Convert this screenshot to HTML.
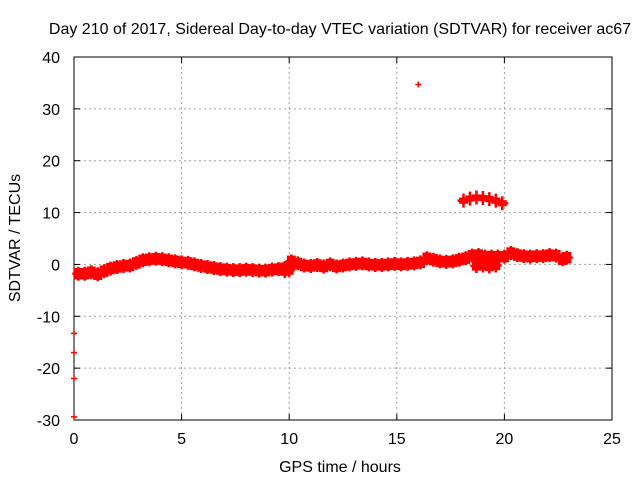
<!DOCTYPE html>
<html><head><meta charset="utf-8"><style>
body{margin:0;background:#fff;}
svg text{font-family:"Liberation Sans",sans-serif;font-size:16px;fill:#000;}
</style></head><body>
<svg width="640" height="480">
<rect width="640" height="480" fill="#fff"/>
<g id="grid"></g>
<g id="axes"></g>
<g id="marks"></g>
<text x="340" y="34" text-anchor="middle">Day 210 of 2017, Sidereal Day-to-day VTEC variation (SDTVAR) for receiver ac67</text>
<text x="340" y="472" text-anchor="middle">GPS time / hours</text>
<text x="0" y="0" text-anchor="middle" transform="translate(20,238) rotate(-90)">SDTVAR / TECUs</text>
</svg>
<script>
const xTicks=[0,5,10,15,20,25];
const yTicks=[-30,-20,-10,0,10,20,30,40];
const mainTimes=[0.2,0.5,0.8,1.1,1.4,1.7,2.0,2.3,2.6,2.9,3.2,3.5,3.8,4.1,4.4,4.7,5.0,5.3,5.6,5.9,6.2,6.5,6.8,7.1,7.4,7.7,8.0,8.3,8.6,8.9,9.2,9.5,9.8,10.1,10.4,10.7,11.0,11.3,11.6,11.9,12.2,12.5,12.8,13.1,13.4,13.7,14.0,14.3,14.6,14.9,15.2,15.5,15.8,16.1,16.4,16.7,17.0,17.3,17.6,17.9,18.2,18.5,18.8,19.1,19.4,19.7,20.0,20.3,20.6,20.9,21.2,21.5,21.8,22.1,22.4,22.7,22.9];
const mainValues=[-1.8,-1.8,-1.5,-1.9,-1.3,-0.8,-0.5,-0.3,-0.2,0.3,0.8,1.0,1.1,1.0,0.8,0.6,0.4,0.3,0.0,-0.3,-0.5,-0.7,-0.9,-1.0,-1.1,-1.1,-1.0,-1.1,-1.2,-1.2,-1.0,-0.9,-0.7,0.6,0.2,-0.2,-0.3,-0.1,-0.4,0.0,-0.4,-0.2,0.0,0.1,0.2,0.0,-0.1,-0.1,0.0,0.1,0.0,0.1,0.2,0.4,1.2,0.9,0.6,0.5,0.6,0.9,1.2,1.7,1.8,1.5,1.5,1.5,1.5,2.2,1.8,1.6,1.5,1.6,1.6,1.8,1.7,1.0,1.3];
const lowerTimes=[9.8,10.0,18.7,19.0,19.3,19.6];
const lowerValues=[-1.3,-1.1,-0.3,-0.2,-0.4,-0.2];
const arcTimes=[18.1,18.4,18.7,19.0,19.3,19.6,19.9];
const arcValues=[12.3,12.7,12.9,12.8,12.6,12.3,11.8];
const outlierTimes=[16.0,0,0,0,0];
const outlierValues=[34.7,-13.3,-17.0,-22.0,-29.4];

const L=74,R=612,T=57,B=420,xMin=0,xMax=25,yMin=-30,yMax=40;
const X=v=>L+(v-xMin)/(xMax-xMin)*(R-L);
const Y=v=>B-(v-yMin)/(yMax-yMin)*(B-T);
const NS='http://www.w3.org/2000/svg';
function mk(tag,parent,attrs){const e=document.createElementNS(NS,tag);for(const k in attrs)e.setAttribute(k,attrs[k]);parent.appendChild(e);return e;}
const grid=document.getElementById('grid'),axes=document.getElementById('axes'),marks=document.getElementById('marks');
xTicks.forEach(t=>{
  const x=X(t);
  if(t>xMin&&t<xMax){const g=mk('line',grid,{x1:x,x2:x,y1:T,y2:B,stroke:'#a0a0a0','stroke-dasharray':'2,3'});
  
  }
  mk('line',axes,{x1:x,x2:x,y1:B,y2:B-6,stroke:'#000'});
  mk('line',axes,{x1:x,x2:x,y1:T,y2:T+6,stroke:'#000'});
  const tx=mk('text',axes,{x:x,y:B+24,'text-anchor':'middle'});tx.textContent=t;
  
  
});
yTicks.forEach(t=>{
  const y=Y(t);
  if(t>yMin&&t<yMax){const g=mk('line',grid,{x1:L,x2:R,y1:y,y2:y,stroke:'#a0a0a0','stroke-dasharray':'2,3'});
  
  }
  mk('line',axes,{x1:L,x2:L+6,y1:y,y2:y,stroke:'#000'});
  mk('line',axes,{x1:R,x2:R-6,y1:y,y2:y,stroke:'#000'});
  const tx=mk('text',axes,{x:L-14,y:y+6,'text-anchor':'end'});tx.textContent=t;
  
  
});
mk('rect',axes,{x:L,y:T,width:R-L,height:B-T,fill:'none',stroke:'#000'});
function band(ts,vs,half,name){
  ts.forEach((t,i)=>{
    const x=X(t),y=Y(vs[i]);
    const r=mk('rect',marks,{x:x-4.5,y:Y(vs[i]+half),width:9,height:Y(vs[i]-half)-Y(vs[i]+half),fill:'#f00'});
    
    
    const p=mk('path',marks,{d:`M${x-6},${y}H${x+6}M${x},${y-7}V${y+7}`,stroke:'#f00','stroke-width':2.5});
    
    
  });
}
band(mainTimes,mainValues,1.1,'main-band-point');
band(lowerTimes,lowerValues,0.9,'lower-band-point');
band(arcTimes,arcValues,0.6,'arc-point');
outlierTimes.forEach((t,i)=>{
  const x=X(t),y=Y(outlierValues[i]);
  const p=mk('path',marks,{d:`M${x-3},${y}H${x+3}M${x},${y-3}V${y+3}`,stroke:'#f00','stroke-width':1.5});
  
  
});
</script>
</body></html>
